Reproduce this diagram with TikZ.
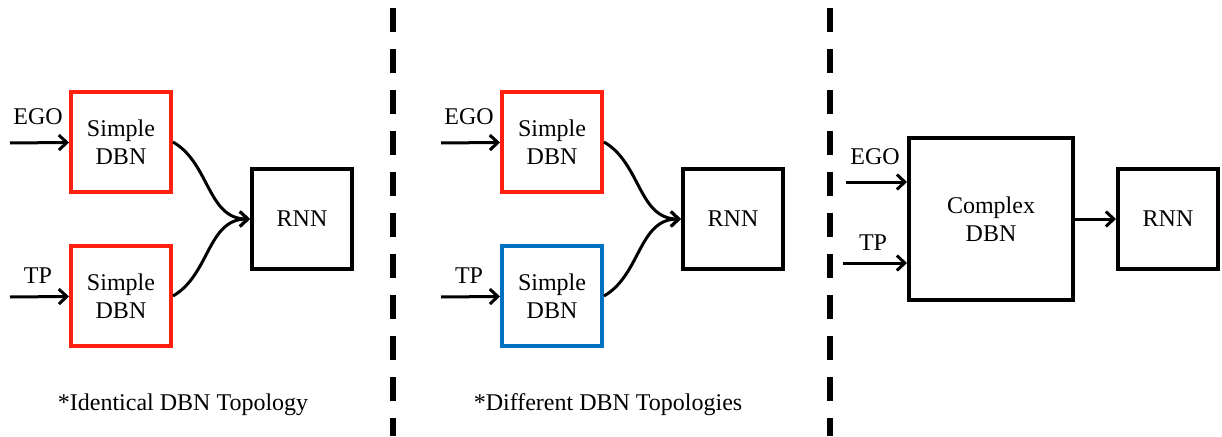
\documentclass[tikz,border=0pt]{standalone}
\usepackage{fontspec}
\setmainfont{Liberation Serif}
\usetikzlibrary{arrows.meta,shapes}
\definecolor{dbnred}{RGB}{255,32,16}
\definecolor{dbnblue}{RGB}{0,112,192}
\tikzstyle{basicbox} = [draw, line width=4pt, minimum width=100pt, minimum height=100pt, align=center, inner sep=0pt]
\tikzstyle{simplebox} = [basicbox, draw=dbnred]
\tikzstyle{link} = [->, line width=3pt]
\tikzstyle{divider} = [line width=6pt, dash pattern=on 24pt off 17pt]

\begin{document}
\begin{tikzpicture}[x=1pt, y=-1pt, >={Straight Barb[length=8pt,width=15pt]}, font=\fontsize{24}{28}\selectfont]
        \useasboundingbox (0,0) rectangle (1222,436);
        % identical topology
        \path[] node[simplebox] (dbna) at (121,142) {Simple\\DBN};
        \path[] node[simplebox] (dbnb) at (121,296) {Simple\\DBN};
        \path[] node[basicbox] (rnna) at (302,219) {RNN};
        \coordinate (egoa) at (10,143);
        \coordinate (tpa) at (10,297);
        \path[link] (egoa) edge (dbna);
        \path[link] (tpa) edge (dbnb);
        \node (egolabela) at (38,117) {EGO};
        \node (tplabela) at (38,276) {TP};
        \path[link] (dbna.east) edge[out=-30,in=180] (rnna.west);
        \path[link] (dbnb.east) edge[out=30,in=180] (rnna.west);
        \node (capa) at (183,405) {*Identical DBN Topology};
        \draw[divider] (393,8) -- (393,436);
        % different topologies
        \path[] node[simplebox] (dbnc) at (552,142) {Simple\\DBN};
        \path[] node[basicbox,draw=dbnblue] (dbnd) at (552,296) {Simple\\DBN};
        \path[] node[basicbox] (rnnb) at (733,219) {RNN};
        \coordinate (egob) at (441,143);
        \coordinate (tpb) at (441,297);
        \path[link] (egob) edge (dbnc);
        \path[link] (tpb) edge (dbnd);
        \node (egolabelb) at (469,117) {EGO};
        \node (tplabelb) at (469,276) {TP};
        \path[link] (dbnc.east) edge[out=-30,in=180] (rnnb.west);
        \path[link] (dbnd.east) edge[out=30,in=180] (rnnb.west);
        \node (capb) at (608,405) {*Different DBN Topologies};
        \draw[divider] (830,8) -- (830,436);
        % complex dbn
        \path[] node[basicbox,minimum width=164pt,minimum height=162pt] (cdbn) at (991,219) {Complex\\DBN};
        \path[] node[basicbox] (rnnc) at (1168,219) {RNN};
        \coordinate (egoc) at (846,182);
        \coordinate (tpc) at (843,263);
        \path[link] (egoc) edge (cdbn.west |- egoc);
        \path[link] (tpc) edge (cdbn.west |- tpc);
        \node (egolabelc) at (875,157) {EGO};
        \node (tplabelc) at (873,243) {TP};
        \path[link] (cdbn) edge (rnnc);
      \end{tikzpicture}
\end{document}
